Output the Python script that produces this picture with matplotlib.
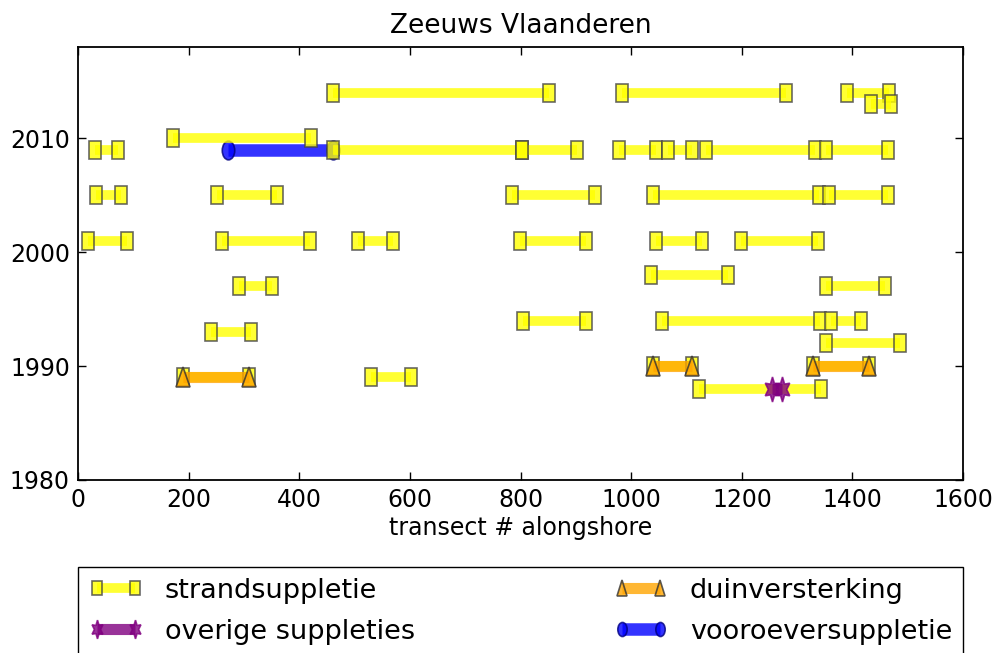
import matplotlib
matplotlib.use('Agg')
import matplotlib.pyplot as plt
from matplotlib.markers import MarkerStyle
from matplotlib.transforms import Affine2D

plt.rcParams.update({'font.family': 'DejaVu Sans', 'font.size': 15})

# nourishment segments: year, first and last transect
strand_year = [2014, 2014, 2014, 2013, 2010,
               2009, 2009, 2009, 2009, 2009, 2009, 2009,
               2005, 2005, 2005, 2005, 2005,
               2001, 2001, 2001, 2001, 2001, 2001,
               1998, 1997, 1997, 1994, 1994, 1994, 1993, 1992,
               1990, 1990, 1989, 1989, 1988]
strand_start = [460, 984, 1390, 1433, 172,
                30, 460, 802, 978, 1067, 1135, 1352,
                32, 251, 785, 1040, 1358,
                18, 260, 506, 799, 1044, 1198,
                1035, 291, 1352, 805, 1055, 1361, 240, 1352,
                1040, 1328, 189, 529, 1123]
strand_end = [851, 1280, 1466, 1469, 420,
              71, 802, 902, 1044, 1110, 1332, 1465,
              77, 359, 935, 1339, 1465,
              88, 419, 570, 919, 1128, 1338,
              1175, 351, 1458, 918, 1341, 1415, 312, 1485,
              1109, 1429, 309, 601, 1343]

duin_year = [1990, 1990, 1989]
duin_start = [1040, 1328, 189]
duin_end = [1109, 1429, 309]

overig_year = [1988]
overig_start = [1254]
overig_end = [1272]

vooroever_year = [2009]
vooroever_start = [270]
vooroever_end = [460]

# markers are drawn a bit taller than wide
stretch = Affine2D().scale(1, 1.5)
m_square = MarkerStyle('s', transform=stretch)
m_tri = MarkerStyle('^', transform=stretch)
m_circ = MarkerStyle('o', transform=stretch)
m_star = MarkerStyle((6, 1, 0), transform=stretch)

styles = {
    'vooroever': dict(color='blue', lw=9, marker=m_circ, ms=9, mfc='blue', mec='#000080'),
    'strand': dict(color='yellow', lw=7, marker=m_square, ms=9, mfc='yellow', mec='#444444'),
    'duin': dict(color='orange', lw=8, marker=m_tri, ms=10, mfc='orange', mec='#333333'),
    'overig': dict(color='purple', lw=8, marker=m_star, ms=12, mfc='purple', mec='purple'),
}

fig = plt.figure(figsize=(9.97, 6.53), dpi=100)
ax = fig.add_axes([0.0785, 0.265, 0.8875, 0.6626])

def draw(years, starts, ends, key, label):
    h = None
    for y, s, e in zip(years, starts, ends):
        h, = ax.plot([s, e], [y, y], alpha=0.8, mew=1.2, solid_capstyle='butt', **styles[key])
    h.set_label(label)
    return h

h_voor = draw(vooroever_year, vooroever_start, vooroever_end, 'vooroever', 'vooroeversuppletie')
h_strand = draw(strand_year, strand_start, strand_end, 'strand', 'strandsuppletie')
h_duin = draw(duin_year, duin_start, duin_end, 'duin', 'duinversterking')
h_over = draw(overig_year, overig_start, overig_end, 'overig', 'overige suppleties')

ax.set_xlim(0, 1600)
ax.set_ylim(1980, 2018)
ax.set_xticks(range(0, 1601, 200))
ax.set_yticks([1980, 1990, 2000, 2010])
ax.tick_params(direction='in', top=True, right=True, length=6, width=1, labelsize=17, pad=6)
for sp in ax.spines.values():
    sp.set_linewidth(1.3)
ax.set_xlabel('transect # alongshore', fontsize=17, labelpad=3)
ax.set_title('Zeeuws Vlaanderen', fontsize=19, pad=10)

fig.legend([h_strand, h_over, h_duin, h_voor],
           ['strandsuppletie', 'overige suppleties', 'duinversterking', 'vooroeversuppletie'],
           loc='upper left', bbox_to_anchor=(0.0785, 0.0, 0.8875, 0.1317),
           mode='expand', ncol=2, numpoints=2, fontsize=19.5, markerscale=0.75,
           fancybox=False, edgecolor='black', framealpha=1, handlelength=2.0,
           borderpad=0.4, labelspacing=0.55, borderaxespad=0)

fig.savefig('out.png', dpi=100)
